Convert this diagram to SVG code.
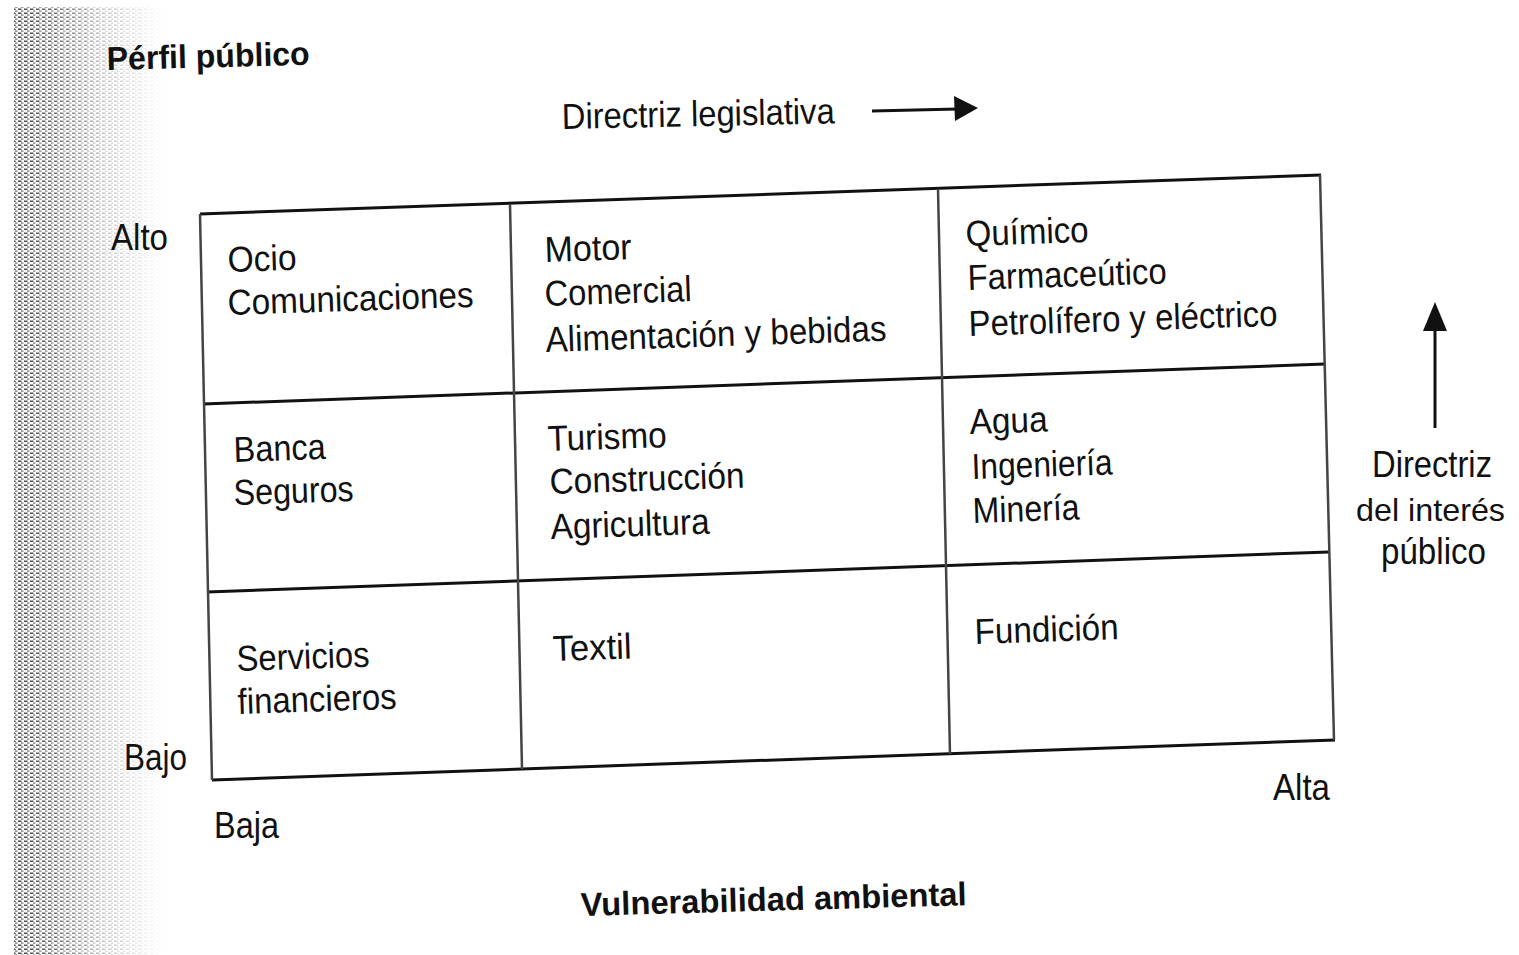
<svg xmlns="http://www.w3.org/2000/svg" width="1519" height="955" viewBox="0 0 1519 955">
  <defs>
    <style>
      .t { font-family: "Liberation Sans", Arial, sans-serif; font-size: 36px; fill: #111; }
      .s { font-size: 32px; }
      .b { font-family: "Liberation Sans", Arial, sans-serif; font-size: 33px; font-weight: bold; fill: #111; }
      .h { stroke: #111; stroke-width: 3; fill: none; }
      .v { stroke: #444; stroke-width: 2.5; fill: none; }
      .ar { stroke: #111; stroke-width: 3; fill: none; }
    </style>
    <pattern id="stip" width="6" height="4" patternUnits="userSpaceOnUse">
      <rect x="0" y="0.5" width="3.5" height="1.5" fill="#444"/>
      <rect x="3" y="2.5" width="2.5" height="1.2" fill="#666"/>
    </pattern>
    <linearGradient id="fade" x1="0" y1="0" x2="1" y2="0">
      <stop offset="0" stop-color="#fff" stop-opacity="1"/>
      <stop offset="0.25" stop-color="#fff" stop-opacity="0.8"/>
      <stop offset="0.6" stop-color="#fff" stop-opacity="0.3"/>
      <stop offset="1" stop-color="#fff" stop-opacity="0"/>
    </linearGradient>
    <mask id="m" maskUnits="userSpaceOnUse" x="0" y="0" width="200" height="955">
      <rect x="14" y="7" width="150" height="948" fill="url(#fade)"/>
    </mask>
  </defs>
  <rect width="1519" height="955" fill="#fff"/>

  <g id="stipple">
    <rect x="14" y="7" width="150" height="948" fill="url(#stip)" mask="url(#m)"/>
  </g>

  <g id="connectors">
    <line class="ar" x1="872" y1="111" x2="958" y2="109"/>
    <polygon points="954,96 978,108 955,121" fill="#111"/>
    <line class="ar" x1="1435" y1="428" x2="1435" y2="328"/>
    <polygon points="1423,331 1435,302 1447,331" fill="#111"/>
  </g>

  <g id="grid">
    <line class="h" x1="200" y1="214" x2="1321" y2="175"/>
    <line class="h" x1="203" y1="404" x2="1325" y2="364"/>
    <line class="h" x1="207" y1="592" x2="1329" y2="552"/>
    <line class="h" x1="212" y1="780" x2="1335" y2="740"/>
    <line class="v" x1="200" y1="214" x2="212" y2="780"/>
    <line class="v" x1="510" y1="204" x2="522" y2="769"/>
    <line class="v" x1="938" y1="189" x2="950" y2="754"/>
    <line class="v" x1="1320" y1="175" x2="1334" y2="740"/>
  </g>

  <g id="labels">
    <text class="b" x="107" y="70" textLength="203" lengthAdjust="spacingAndGlyphs" transform="rotate(-1.5 107 70)">Pérfil público</text>
    <text class="t" x="562" y="129" textLength="273" lengthAdjust="spacingAndGlyphs" transform="rotate(-1.2 562 129)">Directriz legislativa</text>
    <text class="t" x="111" y="250" textLength="57" lengthAdjust="spacingAndGlyphs">Alto</text>
    <text class="t" x="124" y="770" textLength="63" lengthAdjust="spacingAndGlyphs">Bajo</text>
    <text class="t" x="214" y="838" textLength="65" lengthAdjust="spacingAndGlyphs">Baja</text>
    <text class="t" x="1273" y="800" textLength="57" lengthAdjust="spacingAndGlyphs">Alta</text>
    <text class="b" x="581" y="916" textLength="386" lengthAdjust="spacingAndGlyphs" transform="rotate(-1.6 581 916)">Vulnerabilidad ambiental</text>
    <text class="t" x="1372" y="477" textLength="120" lengthAdjust="spacingAndGlyphs">Directriz</text>
    <text class="t s" x="1356" y="521" textLength="149" lengthAdjust="spacingAndGlyphs">del interés</text>
    <text class="t" x="1381" y="564" textLength="105" lengthAdjust="spacingAndGlyphs">público</text>
  </g>

  <g id="cell-ocio">
    <text class="t" x="228" y="272" textLength="69" lengthAdjust="spacingAndGlyphs" transform="rotate(-1.9 228 272)">Ocio</text>
    <text class="t" x="228" y="315" textLength="246" lengthAdjust="spacingAndGlyphs" transform="rotate(-1.9 228 315)">Comunicaciones</text>
  </g>
  <g id="cell-motor">
    <text class="t" x="545" y="262" textLength="87" lengthAdjust="spacingAndGlyphs" transform="rotate(-1.9 545 262)">Motor</text>
    <text class="t" x="545" y="306" textLength="147" lengthAdjust="spacingAndGlyphs" transform="rotate(-1.9 545 306)">Comercial</text>
    <text class="t" x="546" y="352" textLength="341" lengthAdjust="spacingAndGlyphs" transform="rotate(-1.9 546 352)">Alimentación y bebidas</text>
  </g>
  <g id="cell-quimico">
    <text class="t" x="966" y="246" textLength="123" lengthAdjust="spacingAndGlyphs" transform="rotate(-1.9 966 246)">Químico</text>
    <text class="t" x="968" y="290" textLength="199" lengthAdjust="spacingAndGlyphs" transform="rotate(-1.9 968 290)">Farmaceútico</text>
    <text class="t" x="969" y="336" textLength="309" lengthAdjust="spacingAndGlyphs" transform="rotate(-1.9 969 336)">Petrolífero y eléctrico</text>
  </g>
  <g id="cell-banca">
    <text class="t" x="234" y="462" textLength="92" lengthAdjust="spacingAndGlyphs" transform="rotate(-1.9 234 462)">Banca</text>
    <text class="t" x="234" y="505" textLength="120" lengthAdjust="spacingAndGlyphs" transform="rotate(-1.9 234 505)">Seguros</text>
  </g>
  <g id="cell-turismo">
    <text class="t" x="548" y="451" textLength="119" lengthAdjust="spacingAndGlyphs" transform="rotate(-1.9 548 451)">Turismo</text>
    <text class="t" x="550" y="494" textLength="195" lengthAdjust="spacingAndGlyphs" transform="rotate(-1.9 550 494)">Construcción</text>
    <text class="t" x="551" y="539" textLength="159" lengthAdjust="spacingAndGlyphs" transform="rotate(-1.9 551 539)">Agricultura</text>
  </g>
  <g id="cell-agua">
    <text class="t" x="970" y="434" textLength="78" lengthAdjust="spacingAndGlyphs" transform="rotate(-1.9 970 434)">Agua</text>
    <text class="t" x="972" y="479" textLength="141" lengthAdjust="spacingAndGlyphs" transform="rotate(-1.9 972 479)">Ingeniería</text>
    <text class="t" x="973" y="523" textLength="107" lengthAdjust="spacingAndGlyphs" transform="rotate(-1.9 973 523)">Minería</text>
  </g>
  <g id="cell-servicios">
    <text class="t" x="237" y="671" textLength="133" lengthAdjust="spacingAndGlyphs" transform="rotate(-1.9 237 671)">Servicios</text>
    <text class="t" x="238" y="714" textLength="159" lengthAdjust="spacingAndGlyphs" transform="rotate(-1.9 238 714)">financieros</text>
  </g>
  <g id="cell-textil">
    <text class="t" x="553" y="661" textLength="79" lengthAdjust="spacingAndGlyphs" transform="rotate(-1.9 553 661)">Textil</text>
  </g>
  <g id="cell-fundicion">
    <text class="t" x="975" y="644" textLength="144" lengthAdjust="spacingAndGlyphs" transform="rotate(-1.9 975 644)">Fundición</text>
  </g>
</svg>
